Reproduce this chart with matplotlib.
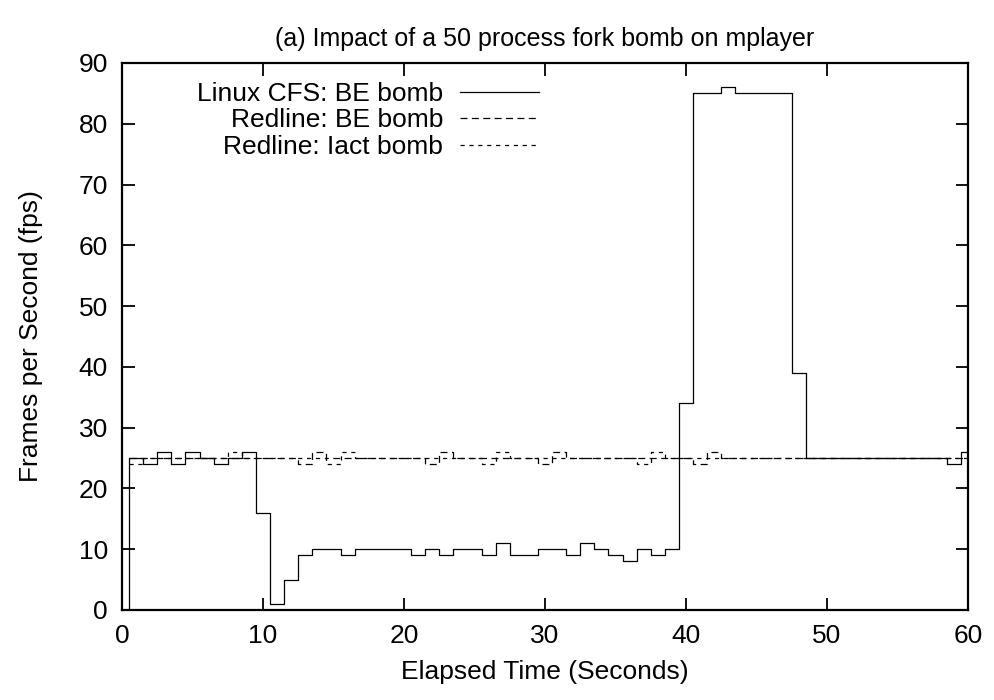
import numpy as np
import matplotlib
matplotlib.use("Agg")
import matplotlib.pyplot as plt

plt.rcParams['font.family'] = ['Liberation Sans', 'DejaVu Sans']
plt.rcParams['lines.scale_dashes'] = False

# Step start times (seconds) and values (fps) per one-second interval
t_start = np.arange(0.5, 60, 1.0)

cfs_be = [25, 24, 26, 24, 26, 25, 24, 25, 26, 16,
          1, 5, 9, 10, 10, 9, 10, 10, 10, 10,
          9, 10, 9, 10, 10, 9, 11, 9, 9, 10,
          10, 9, 11, 10, 9, 8, 10, 9, 10, 34,
          85, 85, 86, 85, 85, 85, 85, 39, 25, 25,
          25, 25, 25, 25, 25, 25, 25, 25, 24, 26]

redline_be = [25, 25, 25, 25, 25, 25, 25, 25, 25, 25,
              25, 25, 24, 26, 25, 25, 25, 25, 25, 25,
              25, 24, 26, 25, 25, 25, 25, 25, 25, 24,
              26, 25, 25, 25, 25, 25, 25, 25, 25, 25,
              24, 26, 25, 25, 25, 25, 25, 25, 25, 25,
              25, 25, 25, 25, 25, 25, 25, 25, 25, 25]

redline_iact = [24, 25, 25, 25, 25, 25, 25, 26, 25, 25,
                25, 25, 25, 25, 24, 26, 25, 25, 25, 25,
                25, 25, 25, 25, 25, 24, 26, 25, 25, 25,
                25, 25, 25, 25, 25, 25, 24, 26, 25, 25,
                25, 25, 25, 25, 25, 25, 25, 25, 25, 25,
                25, 25, 25, 25, 25, 25, 25, 25, 25, 25]

labels = ["Linux CFS: BE bomb", "Redline: BE bomb", "Redline: Iact bomb"]
x_ticks = [0, 10, 20, 30, 40, 50, 60]
y_ticks = [0, 10, 20, 30, 40, 50, 60, 70, 80, 90]


def step_xy(vals, lead_zero=False):
    x = list(t_start) + [60.0]
    y = list(vals) + [vals[-1]]
    if lead_zero:
        x = [0.0] + x
        y = [0] + y
    return x, y


FS = 19
fig = plt.figure(figsize=(9.95, 7.0), dpi=100)
ax = fig.add_axes([0.1226, 0.1286, 0.8503, 0.7814])

x, y = step_xy(cfs_be, lead_zero=True)
ax.plot(x, y, drawstyle='steps-post', color='black', lw=0.9, label=labels[0])
x, y = step_xy(redline_be)
ax.plot(x, y, drawstyle='steps-post', color='black', lw=0.9,
        linestyle=(0, (5.0, 3.2)), label=labels[1])
x, y = step_xy(redline_iact)
ax.plot(x, y, drawstyle='steps-post', color='black', lw=0.9,
        linestyle=(0, (3.0, 3.4)), label=labels[2])

ax.set_xlim(0, 60)
ax.set_ylim(0, 90)
ax.set_xticks(x_ticks)
ax.set_yticks(y_ticks)
ax.tick_params(direction='in', length=9, width=1.3, top=True, right=True,
               labelsize=FS, pad=10, colors='black')
for s in ax.spines.values():
    s.set_linewidth(1.6)
    s.set_color('black')

ax.set_xlabel("Elapsed Time (Seconds)", fontsize=FS, labelpad=9)
ax.set_ylabel("Frames per Second (fps)", fontsize=FS, labelpad=26)
ax.set_title("(a) Impact of a 50 process fork bomb on mplayer", fontsize=18, pad=12)

ax.legend(loc='upper left', bbox_to_anchor=(0.076, 0.985), frameon=False,
          markerfirst=False, fontsize=FS, handlelength=3.0, handletextpad=0.65,
          labelspacing=0.1, borderaxespad=0)

fig.savefig("out.png", dpi=100)
